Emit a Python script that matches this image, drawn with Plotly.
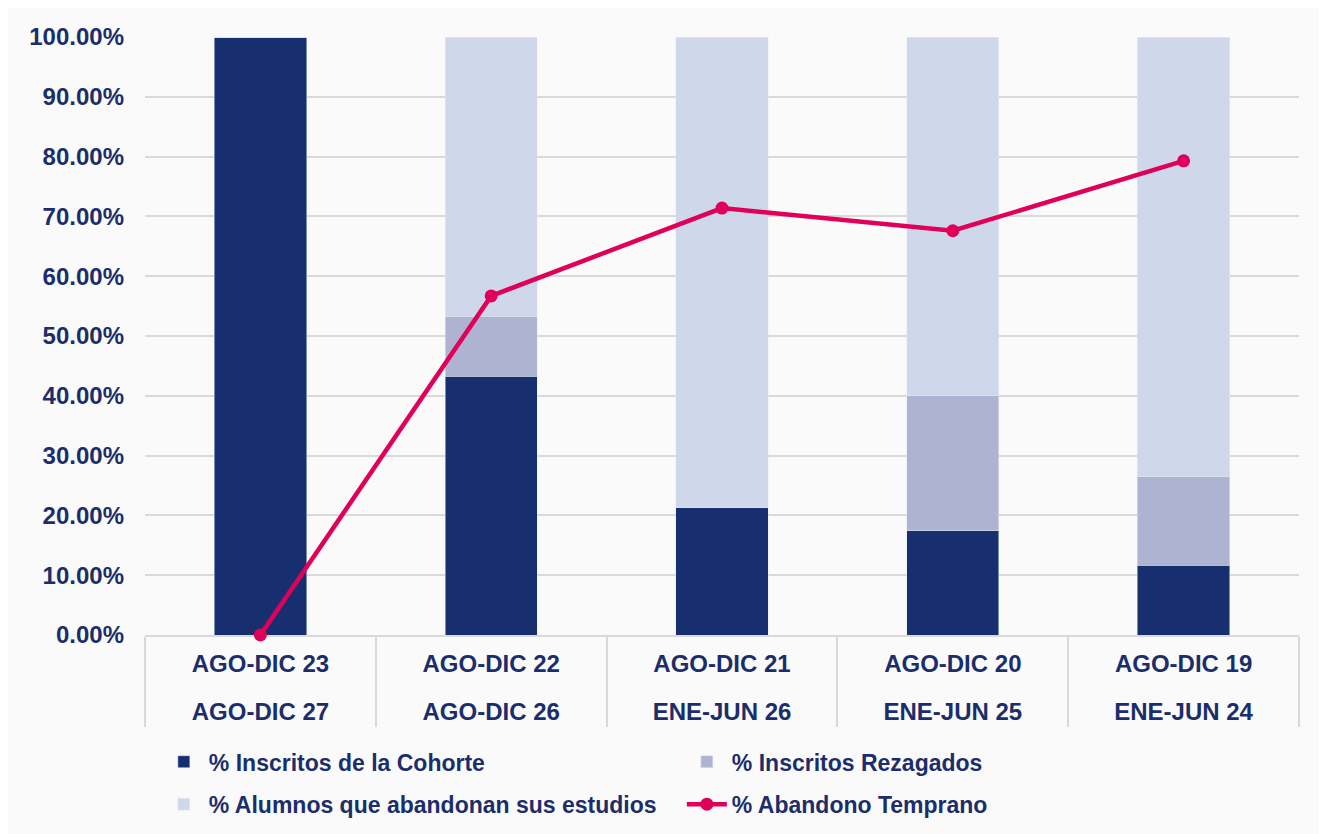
import plotly.graph_objects as go

cat_top = ["AGO-DIC 23", "AGO-DIC 22", "AGO-DIC 21", "AGO-DIC 20", "AGO-DIC 19"]
cat_bottom = ["AGO-DIC 27", "AGO-DIC 26", "ENE-JUN 26", "ENE-JUN 25", "ENE-JUN 24"]

cohorte = [1.000, 0.433, 0.214, 0.174, 0.117]
rezagados = [0.000, 0.100, 0.000, 0.226, 0.148]
abandonan = [0.000, 0.467, 0.786, 0.600, 0.735]
abandono_temprano = [0.000, 0.567, 0.714, 0.676, 0.793]

NAVY = "#172f6f"
TXT = "#1b2e6b"
GRID = "#d9d9d9"
FONT = "Liberation Sans"

fig = go.Figure()
fig.add_trace(go.Bar(x=cat_top, y=cohorte, name="% Inscritos de la Cohorte", marker_color=NAVY,
                     legend="legend"))
fig.add_trace(go.Bar(x=cat_top, y=rezagados, name="% Inscritos Rezagados", marker_color="#afb3d2",
                     legend="legend"))
fig.add_trace(go.Bar(x=cat_top, y=abandonan, name="% Alumnos que abandonan sus estudios",
                     marker_color="#cfd8ea", legend="legend2"))
fig.add_trace(go.Scatter(x=cat_bottom, y=abandono_temprano, name="% Abandono Temprano",
                         mode="lines+markers", xaxis="x2", yaxis="y", legend="legend2",
                         cliponaxis=False,
                         line=dict(color="#e0005a", width=4.5), marker=dict(size=13, color="#e0005a")))

legend_common = dict(orientation="h", xanchor="left", yanchor="top", x=0.012,
                     entrywidth=468, entrywidthmode="pixels", traceorder="normal",
                     font=dict(family=FONT, size=23, color=TXT, weight="bold"),
                     bgcolor="rgba(0,0,0,0)", itemwidth=40)

ncat = len(cat_top)

fig.update_layout(
    barmode="stack",
    bargap=0.6,
    width=1327, height=834,
    margin=dict(l=137, r=36, t=29, b=207),
    paper_bgcolor="#fafafa",
    plot_bgcolor="rgba(0,0,0,0)",
    font=dict(family=FONT, color=TXT, size=20),
    legend=dict(legend_common, y=-0.176),
    legend2=dict(legend_common, y=-0.247),
    showlegend=True,
    yaxis=dict(range=[0, 1], dtick=0.1, tickformat=".2%", showgrid=True, gridcolor=GRID,
               gridwidth=1.5, zeroline=False, showline=False, ticks="", ticklabelstandoff=20,
               layer="below traces",
               tickfont=dict(family=FONT, size=24, color=TXT, weight="bold")),
    xaxis=dict(type="category", range=[-0.5, ncat - 0.5], showline=True, linecolor=GRID,
               linewidth=1.5, ticks="outside", tickson="boundaries", ticklen=90, tickwidth=1.5,
               tickcolor=GRID, ticklabelstandoff=6, showgrid=False, layer="below traces",
               tickfont=dict(family=FONT, size=24, color=TXT, weight="bold")),
    xaxis2=dict(type="category", range=[-0.5, ncat - 0.5], overlaying="x", anchor="y",
                side="bottom", showline=False, ticks="", showgrid=False, ticklabelstandoff=60,
                tickfont=dict(family=FONT, size=24, color=TXT, weight="bold")),
)

fig.write_html("out.html")
